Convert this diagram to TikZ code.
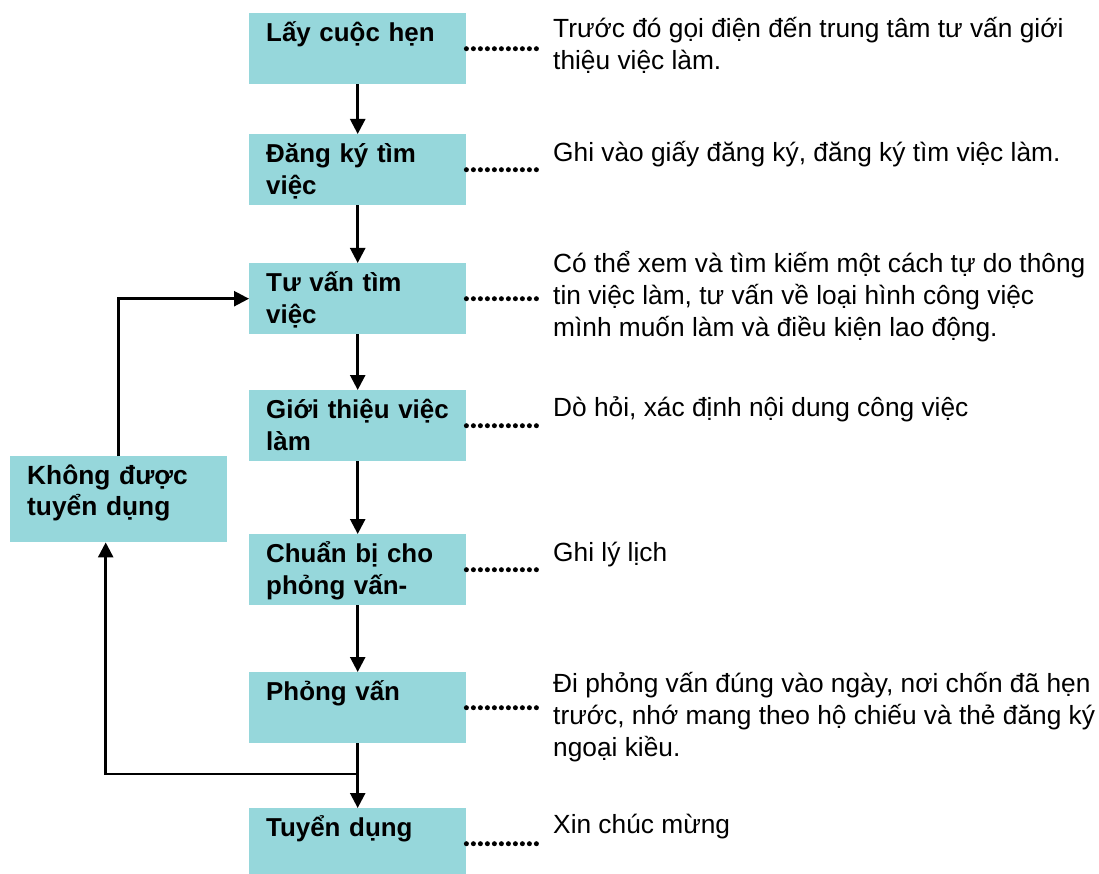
\documentclass[tikz,border=0pt]{standalone}
\usepackage{fontspec}
\setmainfont{Liberation Sans}
\usepackage{tikz}
\usepackage{xcolor}
\usetikzlibrary{positioning, arrows.meta}

\definecolor{stagecyan}{RGB}{150,215,219}

\newcommand{\stagetext}[1]{\parbox[t][59.8pt][t]{195pt}{\raggedright\strut #1}}

\begin{document}
\begin{tikzpicture}[
            x=1pt, y=-1pt,
            stage/.style={fill=stagecyan, anchor=north west, minimum width=217pt,
                minimum height=71pt, inner xsep=0pt, inner ysep=5.6pt,
                text width=217pt,
                font=\bfseries\fontsize{25.9}{32}\selectfont},
            note/.style={anchor=base west, align=left, inner sep=0pt,
                font=\fontsize{26.3}{32}\selectfont},
            flow/.style={line width=2.5pt, -{Triangle[length=15pt, width=15pt]}},
            dots/.style={line width=5pt, line cap=round, dash pattern=on 0pt off 7pt},
        ]
            \useasboundingbox (0,0) rectangle (1099,874);

            % stages
            \node[stage] (appoint) at (249,13) {\hspace*{17pt}\stagetext{Lấy cuộc hẹn}};
            \node[stage] (register) at (249,134) {\hspace*{17pt}\stagetext{Đăng ký tìm\\việc}};
            \node[stage] (advice) at (249,263) {\hspace*{17pt}\stagetext{Tư vấn tìm\\việc}};
            \node[stage] (referral) at (249,390) {\hspace*{17pt}\stagetext{Giới thiệu việc\\làm}};
            \node[stage] (prepare) at (249,534) {\hspace*{17pt}\stagetext{Chuẩn bị cho\\phỏng vấn-}};
            \node[stage] (interview) at (249,672) {\hspace*{17pt}\stagetext{Phỏng vấn}};
            \node[stage] (hired) at (249,808) {\hspace*{17pt}\stagetext{Tuyển dụng}};
            \node[stage, minimum height=86pt, inner ysep=7.3pt,
                font=\bfseries\fontsize{26.3}{29.5}\selectfont]
                (rejected) at (10,456) {\hspace*{17pt}\parbox[t][71.4pt][t]{195pt}{\raggedright\strut Không được\\tuyển dụng}};

            % notes (base = last line)
            \node[note] (n1) at (553,69.3) {Trước đó gọi điện đến trung tâm tư vấn giới\\thiệu việc làm.};
            \node[note] (n2) at (553,161.7) {Ghi vào giấy đăng ký, đăng ký tìm việc làm.};
            \node[note] (n3) at (553,336.7) {Có thể xem và tìm kiếm một cách tự do thông\\tin việc làm, tư vấn về loại hình công việc\\mình muốn làm và điều kiện lao động.};
            \node[note] (n4) at (553,416.7) {Dò hỏi, xác định nội dung công việc};
            \node[note] (n5) at (553,561.7) {Ghi lý lịch};
            \node[note] (n6) at (553,756.7) {Đi phỏng vấn đúng vào ngày, nơi chốn đã hẹn\\trước, nhớ mang theo hộ chiếu và thẻ đăng ký\\ngoại kiều.};
            \node[note] (n7) at (553,833.3) {Xin chúc mừng};

            \coordinate (dotend) at (537,0);
            \coordinate (fork) at (357,774);

            % main flow
            \draw[flow] (appoint) -- (register);
            \draw[flow] (register) -- (advice);
            \draw[flow] (advice) -- (referral);
            \draw[flow] (referral) -- (prepare);
            \draw[flow] (prepare) -- (interview);
            \draw[flow] (interview) -- (hired);

            % loop back
            \draw[flow] (fork) -| ([xshift=-13pt]rejected.south);
            \draw[flow] (rejected.north) |- (advice.west);

            % dotted leaders
            \foreach \s in {appoint, register, advice, referral, prepare, interview, hired}
                \draw[dots] (\s.east) -- (\s.east -| dotend);
        \end{tikzpicture}
\end{document}
